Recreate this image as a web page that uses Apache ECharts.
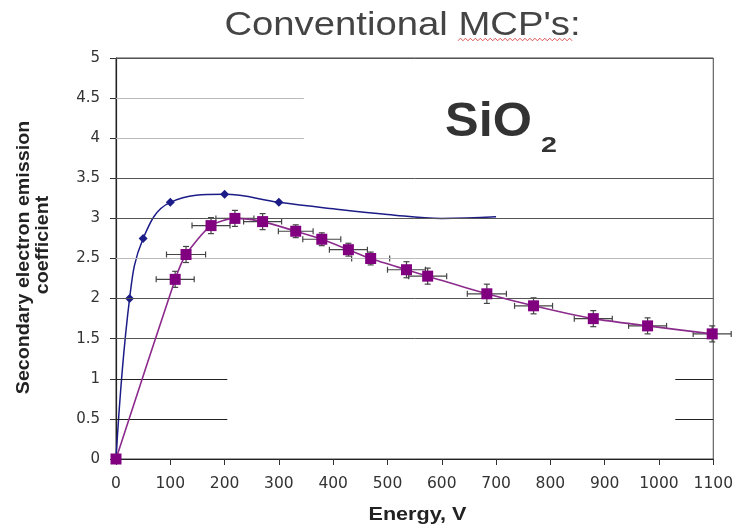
<!DOCTYPE html>
<html><head><meta charset="utf-8">
<script src="https://cdn.jsdelivr.net/npm/echarts@6/dist/echarts.min.js"></script>
<style>html,body{margin:0;padding:0;background:#fff}#c{width:736px;height:527px}</style>
</head><body><div id="c"></div>
<script>
// Blue curve (diamonds): energy, coefficient, marker shown?
var blueX = [0, 25, 50, 100, 200, 300, 400, 500, 600, 700];
var blueY = [0, 2.0, 2.75, 3.2, 3.3, 3.2, 3.12, 3.05, 3.0, 3.02];
var blueMarked = [0, 1, 1, 1, 1, 1, 0, 0, 0, 0];
// Purple curve (squares) with error bars
var purpleX = [0, 109, 129, 175, 219, 270, 331, 379, 428, 469, 535, 574, 683, 769, 879, 979, 1098];
var purpleY = [0, 2.24, 2.55, 2.91, 3.0, 2.96, 2.84, 2.74, 2.61, 2.50, 2.36, 2.28, 2.06, 1.91, 1.75, 1.66, 1.56];
var purpleXErr = [0, 35, 36, 35, 35, 35, 32, 35, 35, 35, 35, 35, 36, 35, 35, 35, 35];
var purpleYErr = [0, 0.1, 0.1, 0.1, 0.1, 0.1, 0.08, 0.08, 0.08, 0.08, 0.1, 0.1, 0.12, 0.1, 0.1, 0.1, 0.1];
var xTicks = [0, 100, 200, 300, 400, 500, 600, 700, 800, 900, 1000, 1100];
var yTicks = [0, 0.5, 1, 1.5, 2, 2.5, 3, 3.5, 4, 4.5, 5];

var chart = echarts.init(document.getElementById('c'));
var dark = '#555', light = '#bbb';
function seg(y, x0, x1, c) { return [{coord: [x0, y], lineStyle: {color: c}}, {coord: [x1, y]}]; }
var gridSegs = [
  seg(5, 0, 1100, dark), seg(4.5, 0, 346, light), seg(4, 0, 346, light),
  seg(3.5, 0, 1100, dark), seg(3, 0, 1100, dark), seg(2.5, 0, 1100, light),
  seg(2, 0, 1100, dark), seg(1.5, 0, 1100, dark),
  seg(1, 0, 205, '#222'), seg(1, 1030, 1100, '#222'),
  seg(0.5, 0, 205, '#222'), seg(0.5, 1030, 1100, '#222')
];
var blueData = blueX.map(function (x, i) {
  return blueMarked[i] ? [x, blueY[i]] : {value: [x, blueY[i]], symbol: 'none'};
});
var purpleData = purpleX.map(function (x, i) { return [x, purpleY[i]]; });
var errData = purpleX.map(function (x, i) { return [x, purpleY[i], purpleXErr[i], purpleYErr[i]]; });

var squig = [];
for (var i = 0; i <= 46; i++) squig.push([458 + i * 2.48, 39.5 + (i % 2 ? -1.3 : 1.3)]);

function label(txt, x, y, font, fill, sx, sy, rot) {
  return {type: 'text', x: x, y: y, scaleX: sx || 1, scaleY: sy || 1, rotation: rot || 0,
    style: {text: txt, x: 0, y: 0, font: font, fill: fill, align: 'center', verticalAlign: 'middle'}};
}

chart.setOption({
  animation: false,
  backgroundColor: '#fff',
  grid: {left: 116, right: 20, top: 58, bottom: 68, show: true, borderColor: '#444', borderWidth: 1},
  xAxis: {
    type: 'value', min: 0, max: 1100, interval: 100,
    axisLine: {lineStyle: {color: '#222', width: 1.2}},
    axisTick: {show: true, length: 6, lineStyle: {color: '#333'}},
    axisLabel: {fontSize: 15.5, color: '#333', fontFamily: 'DejaVu Sans', margin: 17,
      formatter: function (v) { return String(v); }},
    splitLine: {show: false}
  },
  yAxis: {
    type: 'value', min: 0, max: 5, interval: 0.5,
    axisLine: {show: true, lineStyle: {color: '#222', width: 1.2}},
    axisTick: {show: true, length: 6, lineStyle: {color: '#333'}},
    axisLabel: {fontSize: 15, color: '#333', fontFamily: 'DejaVu Sans', margin: 16,
      formatter: function (v) { return String(v); }},
    splitLine: {show: false}
  },
  graphic: [
    label("Conventional MCP's:", 402.5, 26, '33px "Liberation Sans"', '#444', 1.16, 1),
    {type: 'polyline', shape: {points: squig}, style: {stroke: '#d44', lineWidth: 0.9, fill: null}},
    label('SiO', 488.5, 122.5, 'bold 48px "Liberation Sans"', '#333', 1.05, 1),
    label('2', 549, 146, 'bold 22px "Liberation Sans"', '#333', 1.3, 1),
    label('Secondary electron emission', 24, 257.5, 'bold 16px "Liberation Sans"', '#222', 1.23, 1.1, Math.PI / 2),
    label('coefficient', 43, 245, 'bold 16px "Liberation Sans"', '#222', 1.23, 1.1, Math.PI / 2),
    label('Energy, V', 417.5, 515, 'bold 18px "Liberation Sans"', '#222', 1.2, 1)
  ],
  series: [
    {type: 'line', data: [], markLine: {silent: true, symbol: 'none', label: {show: false}, lineStyle: {type: 'solid', width: 1}, data: gridSegs}},
    {type: 'line', data: blueData, smooth: 0.4, symbol: 'diamond', symbolSize: 9, showSymbol: true,
     lineStyle: {color: '#1c1c88', width: 1.5}, itemStyle: {color: '#1c1c88'}, z: 3},
    {type: 'custom', data: errData, z: 4,
     renderItem: function (params, api) {
       var x = api.value(0), y = api.value(1), ex = api.value(2), ey = api.value(3);
       if (!ex) return null;
       var l = api.coord([x - ex, y]), r = api.coord([x + ex, y]);
       var t = api.coord([x, y + ey]), b = api.coord([x, y - ey]);
       var st = {stroke: '#444', lineWidth: 1.2};
       return {type: 'group', children: [
         {type: 'line', shape: {x1: l[0], y1: l[1], x2: r[0], y2: r[1]}, style: st},
         {type: 'line', shape: {x1: l[0], y1: l[1] - 3, x2: l[0], y2: l[1] + 3}, style: st},
         {type: 'line', shape: {x1: r[0], y1: r[1] - 3, x2: r[0], y2: r[1] + 3}, style: st},
         {type: 'line', shape: {x1: t[0], y1: t[1], x2: b[0], y2: b[1]}, style: st},
         {type: 'line', shape: {x1: t[0] - 3, y1: t[1], x2: t[0] + 3, y2: t[1]}, style: st},
         {type: 'line', shape: {x1: b[0] - 3, y1: b[1], x2: b[0] + 3, y2: b[1]}, style: st}
       ]};
     }},
    {type: 'line', data: purpleData, smooth: 0.25, symbol: 'rect', symbolSize: 11, showSymbol: true,
     lineStyle: {color: '#8b2b8b', width: 1.6}, itemStyle: {color: '#800080'}, z: 5}
  ]
});
</script></body></html>
